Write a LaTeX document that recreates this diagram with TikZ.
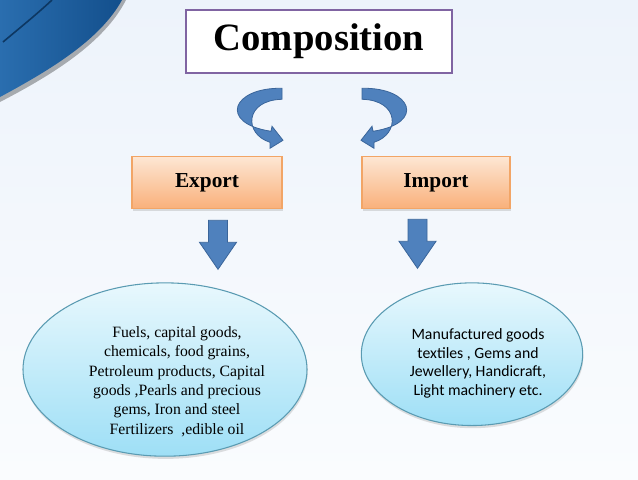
\documentclass[tikz,border=0pt]{standalone}
\usepackage{fontspec}
\setmainfont{Liberation Serif}
\newfontfamily\calibrifont{Carlito}
\usetikzlibrary{positioning, calc, shapes.geometric, shadows}

\definecolor{bgtop}{HTML}{EDF3FB}
\definecolor{bgbottom}{HTML}{FAFCFE}
\definecolor{swooshdark}{HTML}{134F8C}
\definecolor{swooshlight}{HTML}{2A6EAF}
\definecolor{titleline}{HTML}{8064A2}
\definecolor{boxline}{HTML}{F2A566}
\definecolor{boxtop}{HTML}{FDE6D3}
\definecolor{boxbottom}{HTML}{F9B07A}
\definecolor{bubbleline}{HTML}{5A9BB2}
\definecolor{bubbletop}{HTML}{E8F8FD}
\definecolor{bubblebottom}{HTML}{9EDFF6}
\definecolor{arrowblue}{HTML}{4F81BD}
\definecolor{arrowline}{HTML}{3A659A}

\tikzstyle{titlebox} = [rectangle, minimum width=199.5pt, minimum height=47.25pt, draw=titleline, line width=1.9pt, fill=white, font=\fontsize{29}{34}\selectfont\bfseries]
\tikzstyle{box} = [rectangle, minimum width=112.5pt, minimum height=39pt, draw=boxline, line width=0.8pt, top color=boxtop, bottom color=boxbottom, font=\fontsize{16}{19}\selectfont\bfseries, drop shadow={shadow xshift=1pt, shadow yshift=-1.5pt, opacity=0.25}]
\tikzstyle{bubble} = [ellipse, draw=bubbleline, line width=0.8pt, top color=bubbletop, bottom color=bubblebottom, drop shadow={shadow xshift=0.5pt, shadow yshift=-2pt, opacity=0.25}]
\tikzstyle{blockarrow} = [draw=arrowline, line width=0.6pt, fill=arrowblue]

\tikzset{
  turnarrow/.pic={
    \draw[blockarrow] (0,0) .. controls (-50,-1) and (-64,35) .. (-11,43) -- (-10,38) -- (1,52) -- (-12,60) -- (-12,54) .. controls (-38,46) and (-38,12) .. (0,11) -- cycle;
  },
  downarrow/.pic={
    \draw[blockarrow] (-9.5,0) -- (9.5,0) -- (9.5,22) -- (18.5,22) -- (0,49) -- (-18.5,22) -- (-9.5,22) -- cycle;
  }
}

\begin{document}
\begin{tikzpicture}[x=0.75pt, y=-0.75pt]

% Background
\useasboundingbox (0,0) rectangle (638,479);
\shade[top color=bgtop, bottom color=bgbottom] (0,0) rectangle (638,479);
\fill[black, opacity=0.3] (0,0) -- (126,0) .. controls (104,43) and (52,75) .. (0,102) -- cycle;
\shade[left color=swooshlight, right color=swooshdark] (0,0) -- (122,0) .. controls (100,40) and (50,70) .. (0,97) -- cycle;
\draw[swooshdark!70!black, line width=1.2pt] (52,0) .. controls (36,15) and (16,31) .. (3,42);

% Nodes
\node (title) [titlebox] at (319,41.5) {Composition};
\node (export) [box, below=61.5pt of title, xshift=-84pt] {Export};
\node (import) [box, below=61.5pt of title, xshift=87.75pt, minimum width=111pt] {Import};
\node (exportitems) [bubble, minimum width=213pt, minimum height=130pt, below=54.75pt of export, xshift=-31.5pt] {};
\node (importitems) [bubble, minimum width=166pt, minimum height=107pt, below=54.75pt of import, xshift=27pt] {};

\node (exporttext) [align=center, font=\fontsize{11.8}{14.5}\selectfont] at ($(exportitems.center)+(12,12)$) {Fuels, capital goods,\\chemicals, food grains,\\Petroleum products, Capital\\goods ,Pearls and precious\\gems, Iron and steel\\Fertilizers\ \ ,edible oil};
\node (importtext) [align=center, font=\calibrifont\fontsize{11.8}{13.9}\selectfont] at ($(importitems.center)+(6,9)$) {Manufactured goods\\textiles , Gems and\\Jewellery, Handicraft,\\Light machinery etc.};

% Arrows
\pic at ($(title.south)+(-37,14)$) {turnarrow};
\pic[xscale=-1] at ($(title.south)+(43,14)$) {turnarrow};
\pic at ($(export.south)+(11,11)$) {downarrow};
\pic at ($(import.south)+(-18.5,10)$) {downarrow};

\end{tikzpicture}
\end{document}
